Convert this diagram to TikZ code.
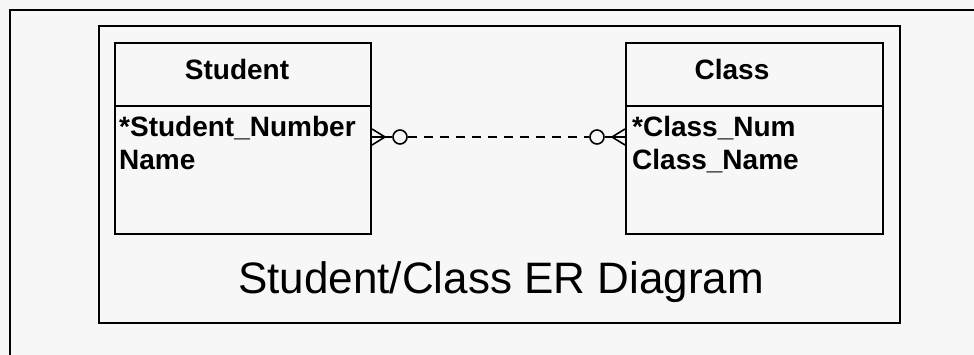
\documentclass[tikz,border=0pt]{standalone}
\usepackage{fontspec}
\setmainfont{Liberation Sans}
\definecolor{bg}{RGB}{247,247,247}
\begin{document}
\begin{tikzpicture}[x=1pt,y=-1pt,
  frame/.style={line width=2pt,black},
  entity/.style={draw,line width=2pt,rectangle,inner sep=0pt,anchor=north west,minimum width=256pt,minimum height=191pt},
  head/.style={font=\fontsize{28}{30}\selectfont\bfseries,inner sep=0pt,anchor=base},
  attr/.style={font=\fontsize{28}{30}\selectfont\bfseries,inner sep=0pt,anchor=base west},
  title/.style={font=\fontsize{44}{48}\selectfont,inner sep=0pt,anchor=base west},
  rel/.style={line width=1.6pt},
  opt/.style={line width=1.6pt,draw,circle,minimum size=14pt,inner sep=0pt}
]
\fill[bg] (0,0) rectangle (974,355);
\useasboundingbox (0,0) rectangle (974,355);
% outer frame (cropped)
\draw[frame] (10,355) -- (10,10) -- (974,10);
% inner frame
\node[draw,line width=2pt,inner sep=0pt,anchor=north west,minimum width=801pt,minimum height=297pt] (diag) at (98,25) {};
% entities
\node[entity] (stu) at (114,42) {};
\node[entity,minimum width=257pt] (cls) at (625,42) {};
\draw[line width=2pt] ([yshift=-64pt]stu.north west) -- ([yshift=-64pt]stu.north east);
\draw[line width=2pt] ([yshift=-64pt]cls.north west) -- ([yshift=-64pt]cls.north east);
\node[head] (stuh) at (237,80) {Student};
\node[head] (clsh) at (732,80) {Class};
\node[attr] (sa1) at (119,137) {*Student\_Number};
\node[attr] (sa2) at (119,170) {Name};
\node[attr] (ca1) at (632,137) {*Class\_Num};
\node[attr] (ca2) at (632,170) {Class\_Name};
\node[title] (ttl) at (238,294) {Student/Class ER Diagram};
% relationship
\coordinate (le) at ([yshift=-95pt]stu.north east);
\coordinate (re) at ([yshift=-95pt]cls.north west);
\coordinate (lm) at ([xshift=13pt]le);
\coordinate (rm) at ([xshift=-13pt]re);
\node[opt] (lo) at ([xshift=28pt]le) {};
\node[opt] (ro) at ([xshift=-28pt]re) {};
\draw[rel] ([yshift=-8pt]le) -- (lm) -- ([yshift=8pt]le);
\draw[rel] (le) -- (lm) -- (lo.west);
\draw[rel] ([yshift=-8pt]re) -- (rm) -- ([yshift=8pt]re);
\draw[rel] (re) -- (rm) -- (ro.east);
\draw[rel,dash pattern=on 9pt off 7pt] (lo.east) -- (ro.west);
\end{tikzpicture}
\end{document}
